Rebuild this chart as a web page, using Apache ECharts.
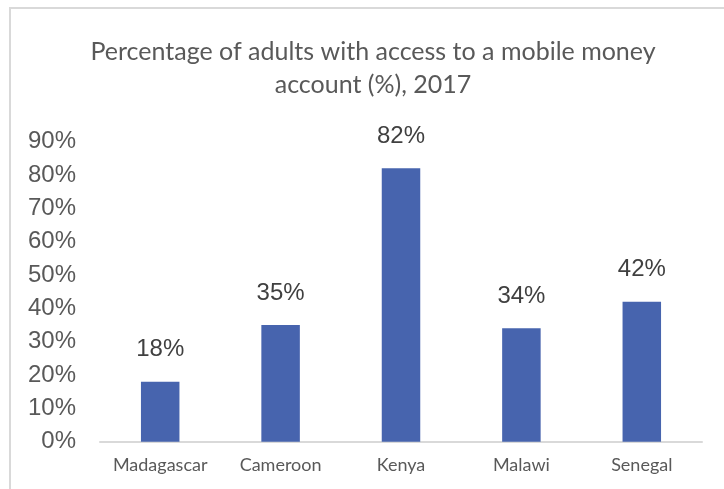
<!DOCTYPE html>
<html>
<head>
<meta charset="utf-8">
<script src="https://cdn.jsdelivr.net/npm/echarts@6/dist/echarts.min.js"></script>
<style>
  html, body { margin: 0; padding: 0; background: #ffffff; }
  #chart { width: 724px; height: 489px; }
</style>
</head>
<body>
<div id="chart"></div>
<script>
// Mobile money account ownership among adults, 2017
const countries = ['Madagascar', 'Cameroon', 'Kenya', 'Malawi', 'Senegal'];
const shareWithAccount = [18, 35, 82, 34, 42];
const yTicks = [0, 10, 20, 30, 40, 50, 60, 70, 80, 90];

const chart = echarts.init(document.getElementById('chart'), null, { renderer: 'canvas' });

chart.setOption({
  animation: false,
  backgroundColor: '#ffffff',
  title: {
    text: 'Percentage of adults with access to a mobile money\naccount (%), 2017',
    left: 373,
    top: 35,
    padding: 0,
    textAlign: 'center',
    textStyle: {
      fontFamily: 'Lato',
      fontSize: 25,
      fontWeight: 'normal',
      color: '#595959',
      lineHeight: 33
    }
  },
  graphic: [{
    type: 'rect',
    shape: { x: 10, y: 8, width: 760, height: 520 },
    style: { fill: 'none', stroke: '#d9d9d9', lineWidth: 2 },
    silent: true,
    z: -1
  }],
  grid: {
    left: 100,
    right: 22,
    top: 141.7,
    bottom: 47.3,
    containLabel: false
  },
  xAxis: {
    type: 'category',
    data: countries,
    axisLine: { show: true, lineStyle: { color: '#d9d9d9', width: 2 } },
    axisTick: { show: false },
    axisLabel: {
      interval: 0,
      margin: 14,
      fontFamily: 'Lato',
      fontSize: 18,
      color: '#595959'
    }
  },
  yAxis: {
    type: 'value',
    min: yTicks[0],
    max: yTicks[yTicks.length - 1],
    interval: 10,
    axisLine: { show: false },
    axisTick: { show: false },
    splitLine: { show: false },
    axisLabel: {
      margin: 24,
      fontFamily: 'Liberation Sans',
      fontSize: 24,
      color: '#595959',
      formatter: function (v) { return v + '%'; }
    }
  },
  series: [{
    type: 'bar',
    data: shareWithAccount,
    barWidth: 38.5,
    itemStyle: { color: '#4764ae' },
    label: {
      show: true,
      position: 'top',
      distance: 20,
      fontFamily: 'Liberation Sans',
      fontSize: 24,
      color: '#404040',
      formatter: function (p) { return p.value + '%'; }
    }
  }]
});
</script>
</body>
</html>
